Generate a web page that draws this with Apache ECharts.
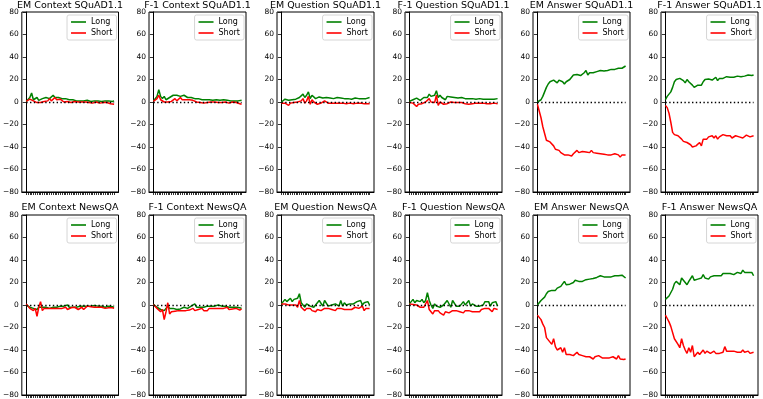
<!DOCTYPE html>
<html><head><meta charset="utf-8">
<script src="https://cdn.jsdelivr.net/npm/echarts@6/dist/echarts.min.js"></script>
<style>html,body{margin:0;padding:0;background:#fff}#c{width:763px;height:399px}</style>
</head><body><div id="c"></div>
<script>
const titles = [
  'EM Context SQuAD1.1','F-1 Context SQuAD1.1','EM Question SQuAD1.1','F-1 Question SQuAD1.1','EM Answer SQuAD1.1','F-1 Answer SQuAD1.1',
  'EM Context NewsQA','F-1 Context NewsQA','EM Question NewsQA','F-1 Question NewsQA','EM Answer NewsQA','F-1 Answer NewsQA'
];
const yTicks = [-80,-60,-40,-20,0,20,40,60,80];

const emCtxSqLong  = [0.5,2,4,8,2,1,4,1.5,2,3,3,4,5,3,4,6,4,3,4,4,3,2.5,3,2,2,1.5,2,1.5,1,1.5,1,2,1,1,1.5,1,0.5,1,1,0.5,1,1.5,0.5,1,1,0.5,1,0,0.5,1];
const emCtxSqShort = [0.5,1,2.5,4,1,0,-0.5,1,-0.5,0,0.5,2,1,3,1,2,4,2,1.5,2.5,1,0,1,0.5,0,-0.5,0,0.5,-0.5,0,-1,0,-0.5,0,0,-0.5,0,-1,-0.5,0,-0.5,-1,0,-0.5,-1,-0.5,-1,-1.5,-1.5,-2];
const f1CtxSqLong  = [1,2,5,11,5,3,5,2,3,4,5,6,5,6,7,5,5,6,5,4,5,4,3,3,2,3,2,2,1.5,2,1,2,2,1.5,1,2,2,1.5,1,2,1,1.5,1,1,1.5,1,2,1,0.5,1.5];
const f1CtxSqShort = [0.5,1.5,3,6,2,1,0,1.5,0,-1,0.5,2,3,1,2,4,2,3,2,3,2,1,1.5,1,0,0.5,-0.5,0,-1,0,-0.5,-1,0,-0.5,0,-1,-0.5,0,-0.5,-1,0,-0.5,-1,-0.5,0,-1,-0.5,-1,-1.5,-2];
const emQSqLong  = [0,0,2.5,2,1.5,3,2,3.5,2.5,3,4,5,7,4,6,9,3,6,5,3,4,4.5,5,3.5,4.5,4,4,3.5,4,3,3.5,4,3,3.5,3,3,3.5,3,3,2.5,3,3.5,3,3,2.5,3,3,3,3.5,4];
const emQSqShort = [-1,-1.5,-1,-0.5,-3,-1,-1,-0.5,-1,0,-1,1,3,-1,1,5,-2,2,0,-1,-2,-0.5,-1,0,1,-0.5,-1,-0.5,-1,-0.5,-1,-1.5,-1,-2,-1,-1,-1.5,-0.5,-1,-1,-1.5,-1,-1,-1.5,-1,-1.5,-1.5,-1,-1.5,-1.5];
const f1QSqLong  = [0.5,1,2,1.5,3.5,2,1.5,3,4,2.5,4,7,5,4,6,10,4,6,4,3,2,5,4,4.5,3.5,4,3,3.5,3,4,3,3,3.5,3,2.5,3,3,2.5,3,3,2.5,2.5,3,2.5,2,2.5,3,2.5,2.5,3];
const f1QSqShort = [-0.5,-1,-1,-1,-4,-2,-1,-1.5,-2,0,-1,3,0,-1,-0.5,6,-3,0,-1,-2,-1,-1.5,-1,0,0,-0.5,-1,-0.5,-1,-0.5,-1,-1.5,-1,-2,-1,-1.5,-1,-1,-1.5,-1,-1.5,-1,-2,-1.5,-1,-1.5,-1.5,-1,-1.5,-1.5];
const emASqLong  = [0,1,2,5,9,13,16,18,19,19.5,19,17,19.5,19,18,16,18,19,20,19,24,23,24.5,24,23.5,25,26,28,24,26,25.5,26,25,27,26,28,28,27.5,28.5,28,28,29,28.5,29,29.5,30,29.5,30,31,32];
const emASqShort = [-2,-8,-14,-22,-28,-34,-35,-35.5,-36,-39,-42,-41,-43,-45,-46,-47,-48,-47,-46,-48,-46,-45,-43,-45,-46,-44,-45,-44.5,-44,-45,-43,-45,-46,-45.5,-45,-46,-47,-46.5,-47,-47,-46,-47,-46.5,-46,-45,-47,-49,-47,-47.5,-47];
const f1ASqLong  = [2,5,7,9,13,18,20,20.5,21,20.5,19,17,20,18,17,15,13,14,15,16,15,18,20,21,20.5,20,19.5,21,22,19,21,20,21,21,22.5,22,22,22.5,22,22.5,23,22.5,22.5,23.5,23,23,24,23.5,23.5,24];
const f1ASqShort = [-3,-5,-10,-18,-27,-29,-29.5,-30,-31,-33,-35,-34,-36,-37,-38,-40,-41,-39,-38,-36,-39,-33,-32,-33,-31,-32,-30,-32,-30,-33,-31,-32,-29,-30,-30,-31,-30,-32,-31,-30,-29,-31,-30,-32,-31,-29.5,-30,-31,-32,-30];

const emCtxNqLong  = [0,-1,-2,-1,-3,-2,-4,-2,-1,-2,-3,-2,-2,-3,-3,-2,-3,-2,-2,-1,-2,-1,-2,0,-2,-1,-2,-1,-2,-2,-1,-2,-1,0,-1,-1,-1,0,-0.5,-1,-1,-0.5,-1,-1,-2,-1.5,-1,-2,-1.5,-2];
const emCtxNqShort = [1,-1,-3,-2,-5,-3,-10,-2,3,-5,-3,-4,-3,-3.5,-3,-3.5,-3,-4,-3,-3.5,-3,-3,-2,-4,-3,-2.5,-3,-2,-3,-4,-3,-2,-4,-3,-1,-2,-1.5,-2,-2,-1.5,-2,-2.5,-2,-2,-3,-2.5,-2.5,-3,-2.5,-3];
const f1CtxNqLong  = [0.5,-1,-2,-1,-4,-3,-5,-3,-1,-3,-4,-3,-3,-4,-3,-3.5,-3,-2,-2,-3,-2,-1,-2,1,-2,-1,-2,-1,-2,-3,-1,-2,-1,0,-1,-1,0,-1,-1,0,-1,-1,-2,-1.5,-2,-2.5,-2,-3,-2.5,-3];
const f1CtxNqShort = [0.5,-1,-3,-2,-6,-4,-13,-6,2,-8,-6,-6,-5.5,-5,-5,-5.5,-5,-6,-5,-5,-4.5,-4,-3,-5,-4,-4,-5,-3,-5,-6,-5,-3,-4,-3,-2,-3,-2.5,-3,-4,-3,-3,-2,-4,-3,-3.5,-3,-3,-4,-4.5,-3.5];
const emQNqLong  = [1,2,5,3,4,6,3,5,4,6,10,2,1,-2,1,2,-1,0,-2,0,0,4,3,-1,4,4,-1,0,0,0,1,0,-1,4,-1,2,0,0,1,0,1,2,3,3,4,0,2,1,3,0];
const emQNqShort = [1,0.5,1,0.5,0,1,0,-1,0,-2,4,-2,-3,-5,-3,-4,-3,-5,-4,-6,-4,-3,-5,-4,-3,-4,-3,-3,-4,-3,-5,-3,-4,-3,-4,-4,-3,-4,-3,-4,-3,-2,-2,-3,-2,-1,-5,-3,-4,-3];
const f1QNqLong  = [1,1.5,5,2,4,4,3,5,2,4,11,4,0,-3,1,-1,0,-2,-2,0,0,4,4,-2,4,3,-1,0,-1,0,3,0,-1,4,-1,1,0,-1,0,-1,0,0,3,3,3,-1,2,1,3,-1];
const f1QNqShort = [1,0.5,0.5,-1,0,-1,-2,-1,-2,-3,4,-4,-5,-8,-5,-6,-5,-7,-6,-9,-6,-5,-7,-6,-5,-6,-5,-5,-6,-5,-7,-5,-6,-5,-6,-6,-5,-6,-5,-6,-4,-3,-3,-4,-3,-2,-6,-3,-4,-4];
const emANqLong  = [0,2,4,4,7,10,12,13,13,12.5,13,15,16,16.5,16,21,18,19,18.5,19,20,22,21,21,20.5,21,22,22.5,22,23,23,23.5,24,24.5,25,26,25,25,25.5,25,26,25,25.5,26,25.5,26,27,26.5,28,24];
const emANqShort = [-9,-10,-13,-17,-20,-29,-30,-33,-35,-30,-37,-40,-41,-38,-42,-38,-44,-43,-44,-43,-45,-44,-42,-44,-44.5,-45,-45,-46,-45,-46,-47,-48,-46,-47,-45,-46,-47,-46.5,-47,-46,-47,-47,-46,-47,-48,-45,-48,-49,-48.5,-48];
const f1ANqLong  = [5,6,8,8,14,19,21,20,18,24,22,20,18,21,20,26,22,22,23,22,24,27,24,25,23,25,24,26,27,26,27,26,28,29,28,27,28,28,27,28,29,29,28,31,29,30,29,30,29,26];
const f1ANqShort = [-9,-12,-15,-19,-20,-30,-31,-35,-38,-30,-36,-40,-43,-38,-42,-36,-46,-44,-42,-44,-43,-40,-43,-41,-42,-43,-42,-41,-43,-42,-43,-42,-42,-37,-41,-42,-41,-42,-41,-41,-42,-41,-42,-40,-42,-43,-41,-43,-43,-42];

const longSeries = [emCtxSqLong,f1CtxSqLong,emQSqLong,f1QSqLong,emASqLong,f1ASqLong,emCtxNqLong,f1CtxNqLong,emQNqLong,f1QNqLong,emANqLong,f1ANqLong];
const shortSeries = [emCtxSqShort,f1CtxSqShort,emQSqShort,f1QSqShort,emASqShort,f1ASqShort,emCtxNqShort,f1CtxNqShort,emQNqShort,f1QNqShort,emANqShort,f1ANqShort];

const FONT = 'DejaVu Sans';
const W = 763;
const gridW = 97, gridH = 180;
const lefts = [21.5, 149, 277, 405, 533, 661];
const tops = [12, 215];

const grid = [], xAxis = [], yAxis = [], series = [], title = [], legend = [];
for (let i = 0; i < 12; i++) {
  const r = Math.floor(i / 6), c = i % 6;
  const L = lefts[c], T = tops[r];
  const n = longSeries[i].length;
  const idx = longSeries[i].map((_, j) => j);
  grid.push({left: L, top: T, width: gridW, height: gridH, show: true, borderColor: '#000', borderWidth: 1, backgroundColor: '#fff'});
  const pad = (n - 1) * 0.05;
  xAxis.push({gridIndex: i, type: 'value', min: -pad, max: n - 1 + pad,
    axisLine: {show: true, onZero: false, lineStyle: {color: '#000', width: 1}},
    axisTick: {show: true, customValues: idx, length: 3, lineStyle: {color: '#000', width: 0.8}},
    axisLabel: {show: false}, splitLine: {show: false}});
  yAxis.push({gridIndex: i, type: 'value', min: yTicks[0], max: yTicks[yTicks.length - 1], interval: 20,
    axisLine: {show: true, lineStyle: {color: '#000', width: 1}},
    axisTick: {show: true, length: 3.5, lineStyle: {color: '#000', width: 0.8}},
    axisLabel: {fontFamily: FONT, fontSize: 7.5, color: '#000', margin: 3,
      formatter: v => v < 0 ? '\u2212' + (-v) : String(v)},
    splitLine: {show: false}});
  series.push({name: 'Long', type: 'line', xAxisIndex: i, yAxisIndex: i, symbol: 'none',
    lineStyle: {color: '#008000', width: 1.5}, itemStyle: {color: '#008000'},
    data: longSeries[i].map((v, j) => [j, v]),
    markLine: {silent: true, symbol: 'none', label: {show: false}, animation: false,
      lineStyle: {color: '#000', type: [1.4, 2.4], width: 1.4},
      emphasis: {disabled: true},
      data: [[{coord: [0, 0]}, {coord: [n - 1, 0]}]]}});
  series.push({name: 'Short', type: 'line', xAxisIndex: i, yAxisIndex: i, symbol: 'none',
    lineStyle: {color: '#ff0000', width: 1.5}, itemStyle: {color: '#ff0000'},
    data: shortSeries[i].map((v, j) => [j, v])});
  title.push({text: titles[i], left: L + gridW / 2, top: Math.max(0.5, T - 12), textAlign: 'center', padding: 0,
    textStyle: {fontFamily: FONT, fontSize: 9.5, fontWeight: 'normal', color: '#000'}});
  legend.push({data: ['Long', 'Short'], orient: 'vertical', right: W - (L + gridW) + 2, top: T + 3,
    icon: 'rect', itemWidth: 15, itemHeight: 1.6, itemGap: 3,
    padding: [3, 4, 3, 4], borderColor: '#ccc', borderWidth: 0.8, borderRadius: 2,
    backgroundColor: 'rgba(255,255,255,0.8)', selectedMode: false,
    textStyle: {fontFamily: FONT, fontSize: 8, color: '#000'}});
}

const chart = echarts.init(document.getElementById('c'), null, {renderer: 'canvas'});
chart.setOption({animation: false, backgroundColor: '#fff', title, legend, grid, xAxis, yAxis, series});
</script>
</body></html>
